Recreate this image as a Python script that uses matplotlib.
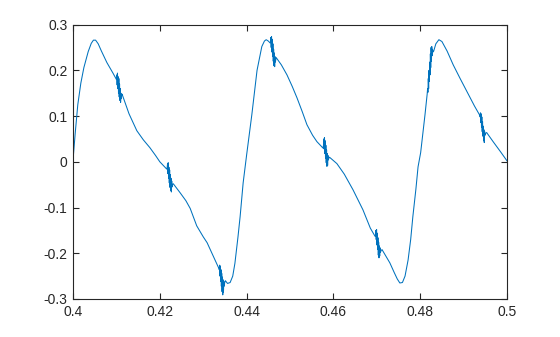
import matplotlib
matplotlib.use("Agg")
import matplotlib.pyplot as plt
from matplotlib.ticker import FuncFormatter

# smooth part of the waveform
curve_x = [0.4000, 0.4005, 0.4011, 0.4018, 0.4025, 0.4035, 0.4042, 0.4047, 0.4052, 0.4058, 0.4065,
           0.4078, 0.4092, 0.4099,
           0.4113, 0.4129, 0.4147, 0.4162, 0.4177, 0.4190, 0.4200, 0.4210, 0.4216,
           0.4231, 0.4247, 0.4260, 0.4270, 0.4285, 0.4300, 0.4309, 0.4325, 0.4336,
           0.4351, 0.4356, 0.4362, 0.4368, 0.4373, 0.4380, 0.4385, 0.4392, 0.4400,
           0.4412, 0.4424, 0.4435, 0.4441, 0.4445, 0.4450, 0.4454,
           0.4468, 0.4480, 0.4493, 0.4505, 0.4516, 0.4528, 0.4539, 0.4552, 0.4562, 0.4576,
           0.4591, 0.4608, 0.4625, 0.4645, 0.4668, 0.4685, 0.4696,
           0.4712, 0.4722, 0.4730, 0.4740, 0.4747, 0.4753, 0.4759, 0.4765, 0.4772, 0.4778,
           0.4783, 0.4790, 0.4795, 0.4801, 0.4811, 0.4816,
           0.4831, 0.4836, 0.4843, 0.4850, 0.4862, 0.4876, 0.4892, 0.4908, 0.4925, 0.4937,
           0.4953, 0.4968, 0.4985, 0.5000]
curve_y = [0.004, 0.062, 0.125, 0.172, 0.206, 0.241, 0.259, 0.266, 0.266, 0.258, 0.243,
           0.217, 0.194, 0.182,
           0.148, 0.105, 0.068, 0.048, 0.031, 0.014, 0.000, -0.010, -0.016,
           -0.048, -0.068, -0.085, -0.102, -0.140, -0.164, -0.177, -0.210, -0.233,
           -0.260, -0.266, -0.264, -0.250, -0.222, -0.165, -0.120, -0.046, 0.015,
           0.103, 0.200, 0.252, 0.264, 0.267, 0.264, 0.260,
           0.228, 0.212, 0.190, 0.165, 0.140, 0.110, 0.081, 0.058, 0.044, 0.030,
           0.010, -0.004, -0.027, -0.061, -0.105, -0.145, -0.163,
           -0.192, -0.208, -0.221, -0.242, -0.256, -0.265, -0.264, -0.250, -0.215, -0.170,
           -0.120, -0.060, -0.011, 0.020, 0.103, 0.148,
           0.242, 0.258, 0.267, 0.263, 0.242, 0.212, 0.182, 0.153, 0.122, 0.102,
           0.064, 0.044, 0.022, 0.002]

# noise bursts, each one drawn right after the curve point with index burst_after[k]
burst_after = [13, 22, 31, 47, 57, 64, 80, 90]
burst_x = [
    [0.41000, 0.41008, 0.41016, 0.41024, 0.41032, 0.41040, 0.41048, 0.41056, 0.41064, 0.41072, 0.41080, 0.41088, 0.41096, 0.41104, 0.41112, 0.41120],
    [0.42170, 0.42178, 0.42186, 0.42194, 0.42202, 0.42210, 0.42218, 0.42226, 0.42234, 0.42242, 0.42250, 0.42258, 0.42266, 0.42274, 0.42282, 0.42292],
    [0.43370, 0.43378, 0.43386, 0.43394, 0.43402, 0.43410, 0.43418, 0.43426, 0.43434, 0.43442, 0.43450, 0.43458, 0.43466, 0.43474, 0.43482, 0.43495],
    [0.44550, 0.44558, 0.44566, 0.44574, 0.44582, 0.44590, 0.44598, 0.44606, 0.44614, 0.44622, 0.44630, 0.44638, 0.44646, 0.44654, 0.44662, 0.44672],
    [0.45770, 0.45778, 0.45786, 0.45794, 0.45802, 0.45810, 0.45818, 0.45826, 0.45834, 0.45842, 0.45850, 0.45858, 0.45866, 0.45874, 0.45882, 0.45895],
    [0.46970, 0.46978, 0.46986, 0.46994, 0.47002, 0.47010, 0.47018, 0.47026, 0.47034, 0.47042, 0.47050, 0.47058, 0.47066, 0.47074, 0.47082, 0.47100],
    [0.48170, 0.48178, 0.48186, 0.48194, 0.48202, 0.48210, 0.48218, 0.48226, 0.48234, 0.48242, 0.48250, 0.48258, 0.48266, 0.48274, 0.48282, 0.48295],
    [0.49380, 0.49388, 0.49396, 0.49404, 0.49412, 0.49420, 0.49428, 0.49436, 0.49444, 0.49452, 0.49460, 0.49468, 0.49476, 0.49484, 0.49492, 0.49505],
]
burst_y = [
    [0.180, 0.190, 0.168, 0.194, 0.160, 0.186, 0.150, 0.182, 0.142, 0.170, 0.134, 0.160, 0.130, 0.150, 0.138, 0.146],
    [-0.012, -0.004, -0.026, -0.002, -0.036, -0.012, -0.046, -0.018, -0.056, -0.028, -0.063, -0.036, -0.066, -0.042, -0.055, -0.050],
    [-0.236, -0.226, -0.250, -0.228, -0.262, -0.236, -0.272, -0.244, -0.284, -0.252, -0.291, -0.258, -0.286, -0.262, -0.272, -0.264],
    [0.262, 0.272, 0.250, 0.274, 0.240, 0.268, 0.230, 0.258, 0.220, 0.246, 0.210, 0.238, 0.208, 0.230, 0.218, 0.224],
    [0.035, 0.050, 0.028, 0.053, 0.018, 0.046, 0.008, 0.036, -0.002, 0.026, -0.010, 0.018, -0.008, 0.014, 0.004, 0.008],
    [-0.160, -0.150, -0.170, -0.148, -0.182, -0.156, -0.192, -0.166, -0.204, -0.176, -0.210, -0.184, -0.206, -0.188, -0.198, -0.194],
    [0.160, 0.152, 0.182, 0.160, 0.200, 0.176, 0.218, 0.190, 0.236, 0.206, 0.250, 0.220, 0.252, 0.232, 0.246, 0.240],
    [0.098, 0.107, 0.086, 0.105, 0.076, 0.098, 0.066, 0.088, 0.056, 0.078, 0.046, 0.070, 0.042, 0.066, 0.058, 0.062],
]

xs, ys = [], []
for i in range(len(curve_x)):
    xs.append(curve_x[i])
    ys.append(curve_y[i])
    if i in burst_after:
        k = burst_after.index(i)
        xs += burst_x[k]
        ys += burst_y[k]

plt.rcParams["font.family"] = ["Liberation Sans", "DejaVu Sans"]
plt.rcParams["axes.unicode_minus"] = False

fig = plt.figure(figsize=(5.6, 3.37), dpi=100)
ax = fig.add_axes([0.1304, 0.1128, 0.775, 0.8142])
ax.plot(xs, ys, color="#0072BD", linewidth=0.75)

ax.set_xlim(0.4, 0.5)
ax.set_ylim(-0.3, 0.3)
ax.set_xticks([0.4, 0.42, 0.44, 0.46, 0.48, 0.5])
ax.set_yticks([-0.3, -0.2, -0.1, 0, 0.1, 0.2, 0.3])
fmt = FuncFormatter(lambda v, p: ("%g" % round(v, 4)))
ax.xaxis.set_major_formatter(fmt)
ax.yaxis.set_major_formatter(fmt)

axcol = "#262626"
for s in ax.spines.values():
    s.set_color(axcol)
    s.set_linewidth(0.8)
ax.tick_params(direction="in", length=4, width=0.8, colors=axcol, labelsize=10,
               top=True, right=True, pad=4)

fig.savefig("out.png", dpi=100)
